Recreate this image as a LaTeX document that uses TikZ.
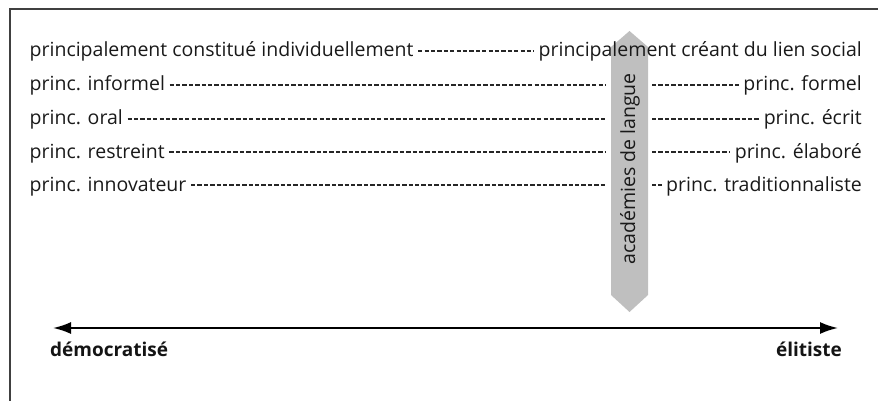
\documentclass[tikz,border=0pt]{standalone}
\usepackage{fontspec}
\setmainfont{Open Sans}
\usetikzlibrary{arrows.meta,calc}
\begin{document}
\begin{tikzpicture}[x=1pt,y=-1pt,
  lbl/.style={inner sep=0pt,font=\fontsize{19.5}{22}\selectfont,text=black!90},
  blbl/.style={inner sep=0pt,font=\fontsize{19}{22}\selectfont\bfseries,text=black!92},
  dsh/.style={line width=1.5pt,dash pattern=on 4.3pt off 2.1pt,black!85},
  frame/.style={line width=1.5pt,black!75},
  axis/.style={line width=2pt,black,{Latex[length=18pt,width=12pt]}-{Latex[length=18pt,width=12pt]}},
  band/.style={fill=gray!50}]
\useasboundingbox (0,0) rectangle (878,401);
\draw[frame] (878,9) -- (10,9) -- (10,401);
% grey vertical band
\fill[band] (611,47) -- (629.5,31) -- (648,47) -- (648,295) -- (629.5,312) -- (611,295) -- cycle;
\node[lbl,rotate=90] (acad) at (630,169) {académies de langue};
\coordinate (gl) at (605,0);
\coordinate (gr) at (652,0);
% row 1
\node[lbl,anchor=base west] (l1) at (29.5,57) {principalement constitué individuellement};
\node[lbl,anchor=base east] (r1) at (862,57) {principalement créant du lien social};
\draw[dsh] ($(l1.base east)+(4.5,-5.8)$) -- ($(r1.base west)+(-4.5,-5.8)$);
% rows 2-5
\node[lbl,anchor=base west] (l2) at (29.5,91) {princ. informel};
\node[lbl,anchor=base east] (r2) at (862,91) {princ. formel};
\node[lbl,anchor=base west] (l3) at (29.5,125) {princ. oral};
\node[lbl,anchor=base east] (r3) at (862,125) {princ. écrit};
\node[lbl,anchor=base west] (l4) at (29.5,158) {princ. restreint};
\node[lbl,anchor=base east] (r4) at (862,158) {princ. élaboré};
\node[lbl,anchor=base west] (l5) at (29.5,191) {princ. innovateur};
\node[lbl,anchor=base east] (r5) at (862,191) {princ. traditionnaliste};
\foreach \i in {2,...,5}{
  \draw[dsh] ($(l\i.base east)+(4.5,-5.8)$) coordinate (a\i) -- (a\i -| gl);
  \draw[dsh] (a\i -| gr) -- ($(r\i.base west)+(-4.5,-5.8)$);
}
% axis
\coordinate (axl) at (53,328);
\coordinate (axr) at (838,328);
\draw[axis] (axl) -- (axr);
\node[blbl,anchor=base west] (dem) at (50,356.5) {démocratisé};
\node[blbl,anchor=base east] (eli) at (842,356.5) {élitiste};
\end{tikzpicture}
\end{document}
